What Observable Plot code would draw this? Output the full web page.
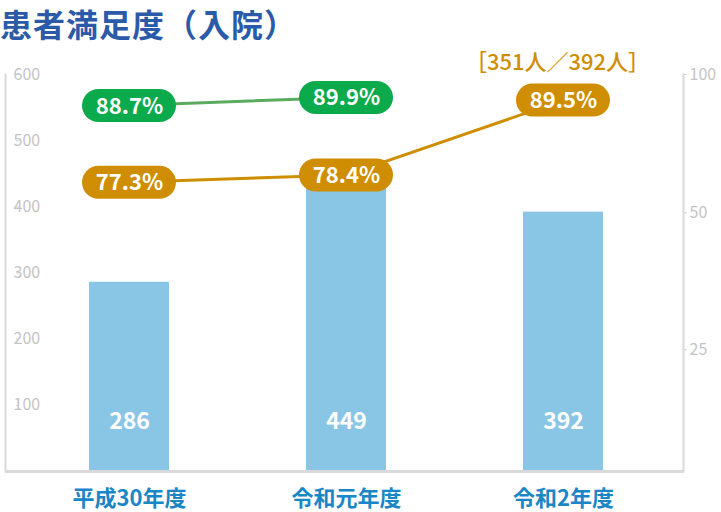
<!DOCTYPE html>
<html>
<head>
<meta charset="utf-8">
<script src="https://cdn.jsdelivr.net/npm/d3@7"></script>
<script src="https://cdn.jsdelivr.net/npm/@observablehq/plot@0.6"></script>
<style>
  body { margin: 0; background: #fff; font-family: "Noto Sans CJK JP", "Noto Sans", sans-serif; }
  #title { height: 40px; line-height: 46px; font-size: 32px; font-weight: bold; color: #2A5AA8; padding-left: 0; white-space: nowrap; letter-spacing: 1px; }
  #chart svg { display: block; }
</style>
</head>
<body>
<div id="title">患者満足度（入院）</div>
<div id="chart"></div>
<script>
// ---- data ----
const years = ["平成30年度", "令和元年度", "令和2年度"];
const patients = [286, 449, 392];
const satisfactionGreen = [88.7, 89.9, null];
const satisfactionOrange = [77.3, 78.4, 89.5];
const leftTicks = [100, 200, 300, 400, 500, 600];
const rightTickLabels = ["100", "50", "25"];
const rightTickPositions = [600, 391, 184];
const note = "［351人／392人］";

// ---- derived tables ----
const bars = years.map((y, i) => ({year: y, value: patients[i]}));
const green = years.map((y, i) => ({year: y, pct: satisfactionGreen[i]})).filter(d => d.pct != null);
const orange = years.map((y, i) => ({year: y, pct: satisfactionOrange[i]}));

// percent mapped onto the count axis (secondary axis)
const pctToCount = d3.scaleLinear().domain([34.4, 93.3]).range([0, 600]);

const GREEN = "#0BAA4C", GREEN_LINE = "#5BAA5E", ORANGE = "#CF8E02";
const font = "Noto Sans CJK JP, Noto Sans, sans-serif";

function pills(data, color) {
  return [
    Plot.tickY(data, {x: "year", y: d => pctToCount(d.pct), stroke: color, strokeWidth: 33,
      strokeLinecap: "round", insetLeft: 9.5, insetRight: 9.5}),
    Plot.text(data, {x: "year", y: d => pctToCount(d.pct), text: d => d.pct.toFixed(1) + "%",
      fill: "white", fontSize: 22, fontWeight: 600, dy: 1})
  ];
}

const chart = Plot.plot({
  width: 721,
  height: 472,
  marginTop: 34,
  marginBottom: 41,
  marginLeft: 5,
  marginRight: 38,
  style: {fontFamily: font, background: "white"},
  x: {domain: years, paddingInner: 0.633, paddingOuter: 0.372, align: 0.51, label: null},
  y: {domain: [0, 600], label: null},
  marks: [
    Plot.barY(bars, {x: "year", y: "value", fill: "#89C6E5"}),
    Plot.text(bars, {x: "year", text: d => String(d.value), frameAnchor: "bottom", dy: -43,
      fill: "white", fontSize: 23, fontWeight: 600}),
    Plot.frame({anchor: "left", stroke: "#D9D9D9", strokeWidth: 2}),
    Plot.frame({anchor: "right", stroke: "#D9D9D9", strokeWidth: 2}),
    Plot.ruleY([0], {stroke: "#D9D9D9", strokeWidth: 3}),
    Plot.axisY({anchor: "left", ticks: leftTicks, tickSize: 3, tickPadding: 3, dx: 14,
      textAnchor: "start", stroke: "#D0D0D0", fill: "#C4C4C4", fontSize: 16, label: null}),
    Plot.axisY({anchor: "right", ticks: rightTickPositions, tickFormat: (d, i) => rightTickLabels[i],
      tickSize: 3, tickPadding: 3, stroke: "#D0D0D0", fill: "#C4C4C4", fontSize: 16, label: null}),
    Plot.axisX({anchor: "bottom", tickSize: 0, tickPadding: 19, fill: "#1B86C6",
      fontSize: 22, fontWeight: "bold", label: null}),
    Plot.line(green, {x: "year", y: d => pctToCount(d.pct), stroke: GREEN_LINE, strokeWidth: 3}),
    Plot.line(orange, {x: "year", y: d => pctToCount(d.pct), stroke: ORANGE, strokeWidth: 3}),
    ...pills(green, GREEN),
    ...pills(orange, ORANGE),
    Plot.text([note], {x: () => years[2], text: d => d, frameAnchor: "top", dy: -20, dx: -6,
      fill: ORANGE, fontSize: 22, fontWeight: 500})
  ]
});
document.getElementById("chart").appendChild(chart);
</script>
</body>
</html>
